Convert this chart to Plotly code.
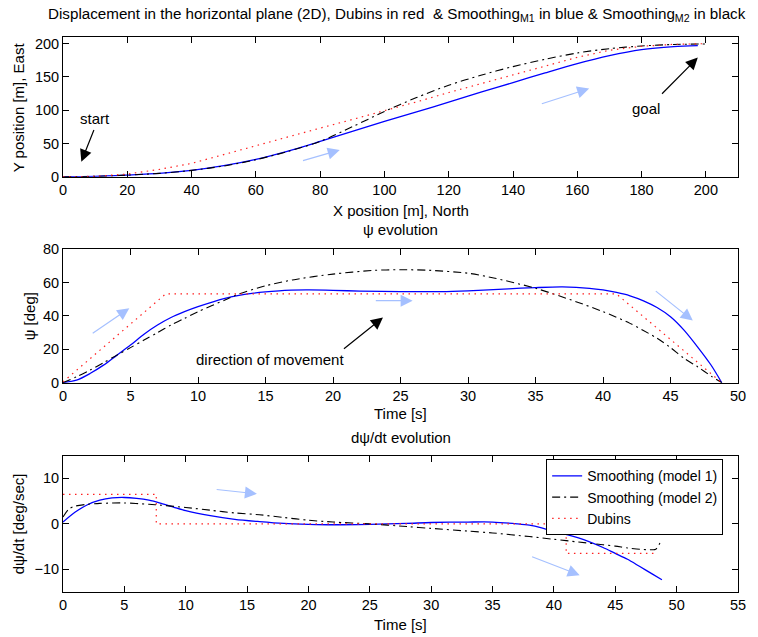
import plotly.graph_objects as go

FONT = "Liberation Sans, Arial, Helvetica, sans-serif"

# --- displacement in the horizontal plane (top panel) ---
pos_x_m1 = [0, 10, 20, 30, 40, 50, 60, 70, 80, 90, 100, 110, 120, 130, 140, 150, 160, 170, 180, 190, 197.5]
pos_y_m1 = [0, 0.5, 2.5, 5, 9.5, 16.5, 26, 38.5, 53, 68, 83, 97.5, 112, 127, 141.5, 156, 170, 182, 191, 195.5, 197]

pos_x_m2 = [0, 10, 20, 30, 40, 50, 60, 70, 80, 90, 100, 110, 120, 130, 140, 150, 160, 170, 180, 190, 200]
pos_y_m2 = [0, 0.5, 2.5, 5, 9.5, 16, 25.5, 38, 53, 75, 98, 119, 137.5, 152.5, 165.5, 176.5, 186, 192.5, 196.5, 198.8, 199.5]

pos_x_dub = [0, 10, 20, 30, 40, 50, 60, 70, 80, 90, 100, 110, 120, 130, 140, 150, 160, 170, 180, 190, 200]
pos_y_dub = [0, 0.5, 4, 11, 20, 33.5, 47, 60, 73, 86, 99, 112.5, 126.5, 140, 153, 166.5, 179.5, 190, 196, 199, 200]

# --- psi evolution (middle panel) ---
t_psi_m1 = [0, 1, 2, 3, 4, 5, 6, 7, 8, 9, 10, 12, 14, 16, 18, 20, 22, 25, 28, 30, 33, 35, 37, 39,
            40, 41, 42, 43, 44, 45, 46, 47, 48, 48.8]
psi_m1 = [0, 1.5, 5.5, 10.5, 16.5, 22.5, 29, 34.5, 39, 42.5, 45.5, 50.5, 53.5, 55, 55.5, 55.3, 54.8,
          54.5, 54.5, 55, 56.2, 56.9, 57.3, 56.5, 55.5, 54, 52, 49, 45, 39.5, 31.5, 21.5, 10.6, 0]

t_psi_m2 = [0, 1, 2, 3, 4, 5, 6, 7, 8, 9, 10, 12, 13, 15, 17, 20, 23, 25, 27, 30, 32, 35, 38, 40,
            42, 44, 45, 46, 47, 48, 48.8]
psi_m2 = [0, 3.5, 7.5, 12, 16.5, 21, 25.5, 30, 34.5, 38.5, 42.5, 49.5, 53, 58, 61.5, 65, 67.2, 67.6,
          67.3, 65.5, 62.5, 56.5, 48.5, 42.5, 35.5, 26.6, 21, 14.6, 9.6, 4, 0]

t_psi_dub = [0, 7.6, 41, 48.8]
psi_dub = [0.5, 53.1, 53.1, 0]

# --- dpsi/dt evolution (bottom panel) ---
t_rate_m1 = [0, 1, 2, 3, 4, 5, 6, 7, 8, 9, 10, 12, 14, 16, 18, 20, 22, 25, 28, 30, 33, 35, 37, 38,
             39, 40, 42, 44, 45, 46, 47, 48, 48.8]
rate_m1 = [0.4, 2.6, 4.2, 5.2, 5.7, 5.8, 5.6, 5.2, 4.5, 3.7, 2.9, 1.8, 1.0, 0.5, 0.1, -0.1, -0.2,
           -0.1, 0.1, 0.3, 0.4, 0.4, 0.0, -0.3, -0.9, -1.7, -3.1, -5.2, -6.5, -7.8, -9.4, -11, -12.3]

t_rate_m2 = [0, 0.5, 1, 2, 3, 5, 7, 8, 10, 12, 14, 16, 18, 20, 22, 25, 28, 30, 33, 35, 38, 40, 42,
             44, 45, 46, 47, 48, 48.3, 48.8]
rate_m2 = [1.5, 3.3, 3.9, 4.3, 4.5, 4.6, 4.3, 4.1, 3.6, 3.0, 2.4, 2.0, 1.4, 0.8, 0.4, 0.0, -0.6,
           -1.0, -1.6, -2.0, -2.8, -3.4, -4.0, -4.6, -4.9, -5.3, -5.6, -5.7, -5.6, -3.4]

t_rate_dub = [0, 7.6, 7.6, 41, 41, 48.45]
rate_dub = [6.5, 6.5, 0, 0, -6.5, -6.5]

BLUE = dict(color="#0000ff", width=1.3)
BLACK = dict(color="black", width=1.1, dash="8px,4px,2px,4px")
RED = dict(color="#ff2020", width=1.2, dash="1.5px,4.5px")
ARROW_BLUE = "rgb(165,192,255)"

fig = go.Figure()

panels = [
    ("x", "y", pos_x_m1, pos_y_m1, pos_x_m2, pos_y_m2, pos_x_dub, pos_y_dub, False),
    ("x2", "y2", t_psi_m1, psi_m1, t_psi_m2, psi_m2, t_psi_dub, psi_dub, False),
    ("x3", "y3", t_rate_m1, rate_m1, t_rate_m2, rate_m2, t_rate_dub, rate_dub, True),
]
for xa, ya, x1, y1, x2, y2, x3, y3, show in panels:
    fig.add_trace(go.Scatter(x=x1, y=y1, xaxis=xa, yaxis=ya, mode="lines", line=BLUE,
                             line_shape="spline", line_smoothing=0.8,
                             name="Smoothing (model 1)", showlegend=show))
    fig.add_trace(go.Scatter(x=x2, y=y2, xaxis=xa, yaxis=ya, mode="lines", line=BLACK,
                             line_shape="spline", line_smoothing=0.8,
                             name="Smoothing (model 2)", showlegend=show))
    fig.add_trace(go.Scatter(x=x3, y=y3, xaxis=xa, yaxis=ya, mode="lines", line=RED,
                             name="Dubins", showlegend=show))

axis_style = dict(showline=True, linecolor="black", linewidth=1, mirror="allticks",
                  ticks="inside", ticklen=6, tickcolor="black", showgrid=False,
                  zeroline=False, tickfont=dict(family=FONT, size=14.5, color="black"))

# the page body adds an 8px offset, so the figure is 8px smaller on each side used
fig.update_layout(
    width=750, height=629,
    margin=dict(l=55, r=15, t=29, b=45),
    paper_bgcolor="white", plot_bgcolor="white",
    font=dict(family=FONT, size=15, color="black"),
    xaxis=dict(axis_style, range=[0, 210], dtick=20, anchor="y", domain=[0, 1]),
    yaxis=dict(axis_style, range=[0, 210], tickvals=[0, 50, 100, 150, 200], anchor="x",
               domain=[0.7483, 1.0]),
    xaxis2=dict(axis_style, range=[0, 50], dtick=5, anchor="y2", domain=[0, 1]),
    yaxis2=dict(axis_style, range=[0, 80], dtick=20, anchor="x2", domain=[0.3771, 0.618]),
    xaxis3=dict(axis_style, range=[0, 55], dtick=5, anchor="y3", domain=[0, 1]),
    yaxis3=dict(axis_style, range=[-15, 15], tickvals=[-10, 0, 10], ticktext=["\u221210", "0", "10"],
                anchor="x3", domain=[0, 0.2456]),
    legend=dict(x=0.978, y=0.2390, xanchor="right", yanchor="top", bgcolor="white",
                bordercolor="black", borderwidth=1, font=dict(size=14)),
)


def py(p):
    # page pixel row -> paper y
    return (592 - p) / 555


def px(p):
    return (p - 63) / 680


texts = [
    ("Displacement in the horizontal plane (2D), Dubins in red  & Smoothing<sub>M1</sub> in blue & "
     "Smoothing<sub>M2</sub> in black", px(399), py(15), 0, 15.2),
    ("X position [m], North", 0.5, py(210), 0, 15),
    ("\u03c8 evolution", 0.5, py(229), 0, 15),
    ("Time [s]", 0.5, py(414), 0, 15),
    ("d\u03c8/dt evolution", 0.5, py(437), 0, 15),
    ("Time [s]", 0.5, py(624), 0, 15),
    ("Y position [m], East", px(18), py(107), -90, 15),
    ("\u03c8 [deg]", px(29), py(316), -90, 15),
    ("d\u03c8/dt [deg/sec]", px(18), py(524), -90, 15),
]
for txt, x, y, ang, size in texts:
    fig.add_annotation(text=txt, x=x, y=y, xref="paper", yref="paper", showarrow=False,
                       xanchor="center", yanchor="middle", textangle=ang,
                       font=dict(family=FONT, size=size, color="black"))

# labels inside the panels
labels = [
    ("start", "x", "y", 9.8, 87.5),
    ("goal", "x", "y", 181.5, 102.5),
    ("direction of movement", "x2", "y2", 15.3, 13.6),
]
for txt, xa, ya, x, y in labels:
    fig.add_annotation(text=txt, x=x, y=y, xref=xa, yref=ya, showarrow=False,
                       font=dict(family=FONT, size=15, color="black"))

# arrows: (xaxis, yaxis, tail x, tail y, head x, head y, colour)
arrows = [
    ("x", "y", 9.8, 72.5, 5.7, 22.5, "black"),
    ("x", "y", 185.9, 122.5, 197.5, 179, "black"),
    ("x", "y", 74.2, 23.5, 86.1, 40, ARROW_BLUE),
    ("x", "y", 148.5, 109, 163.7, 132.5, ARROW_BLUE),
    ("x2", "y2", 20.7, 19.6, 23.7, 39, "black"),
    ("x2", "y2", 2.09, 29, 4.91, 44.5, ARROW_BLUE),
    ("x2", "y2", 23.06, 49.1, 25.9, 49.1, ARROW_BLUE),
    ("x2", "y2", 43.8, 55.5, 46.65, 37.2, ARROW_BLUE),
    ("x3", "y3", 12.4, 7.6, 15.8, 6.6, ARROW_BLUE),
    ("x3", "y3", 38.1, -7.1, 42.1, -11.3, ARROW_BLUE),
]
for xa, ya, ax, ay, x, y, col in arrows:
    fig.add_annotation(text="", x=x, y=y, ax=ax, ay=ay, xref=xa, yref=ya, axref=xa, ayref=ya,
                       showarrow=True, arrowhead=2, arrowsize=2.0, arrowwidth=1.2,
                       arrowcolor=col, standoff=0, startstandoff=0)

fig.write_html("out.html")
